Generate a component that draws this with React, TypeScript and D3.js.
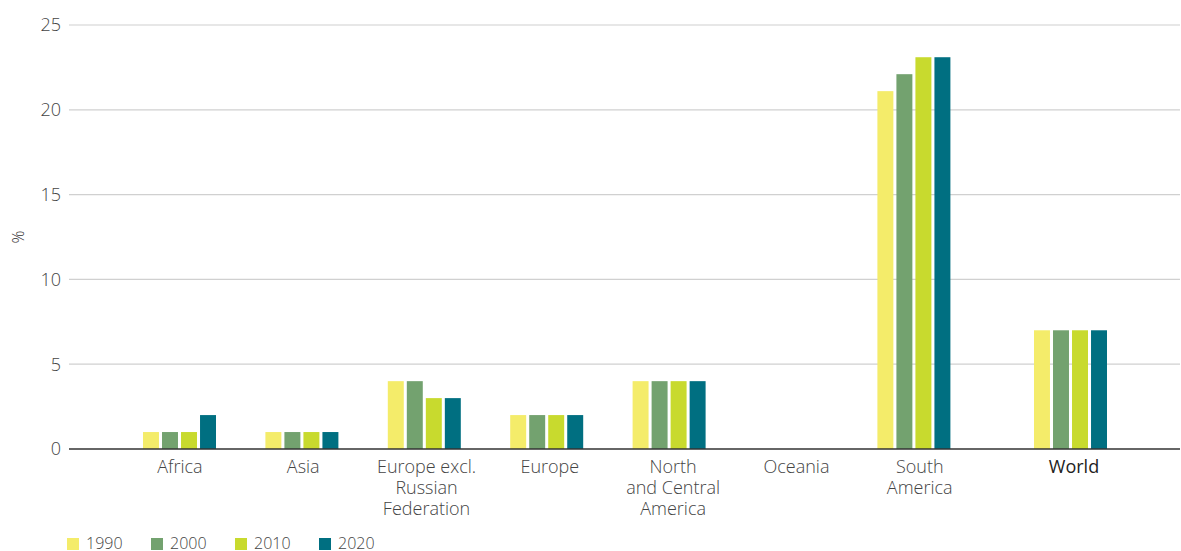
import React from "react";
import * as d3 from "d3";

const categories = ["Africa", "Asia", "Europe excl.\nRussian\nFederation", "Europe", "North\nand Central\nAmerica", "Oceania", "South\nAmerica"];
const worldCategory = "World";
const years = ["1990", "2000", "2010", "2020"];
const colors = ["#F4EC6A", "#73A26F", "#C8DA2E", "#006F81"];
const values1990 = [1, 1, 4, 2, 4, 0, 21.1, 7];
const values2000 = [1, 1, 4, 2, 4, 0, 22.1, 7];
const values2010 = [1, 1, 3, 2, 4, 0, 23.1, 7];
const values2020 = [2, 1, 3, 2, 4, 0, 23.1, 7];
const yTicks = [0, 5, 10, 15, 20, 25];

const W = 1181, H = 551;
const FONT = "'Open Sans', 'Noto Sans', sans-serif";

export default function App() {
  const series = [values1990, values2000, values2010, values2020];
  const y = d3.scaleLinear().domain([0, 25]).range([449, 25]);
  const allCats = [...categories, worldCategory];
  // bar positions
  const xMain = d3.scaleBand<string>().domain(categories).range([118.3, 975.1]);
  const xWorld = d3.scaleBand<string>().domain([worldCategory]).range([981, 1160]);
  // label positions
  const xLabel = d3.scaleBand<string>().domain(categories).range([118.3, 981.4]);
  const xWorldLabel = d3.scaleBand<string>().domain([worldCategory]).range([985, 1163]);
  const center = (i: number) =>
    i < categories.length
      ? (xMain(categories[i]) as number) + xMain.bandwidth() / 2
      : (xWorld(worldCategory) as number) + xWorld.bandwidth() / 2;
  const labelCenter = (i: number) =>
    i < categories.length
      ? (xLabel(categories[i]) as number) + xLabel.bandwidth() / 2
      : (xWorldLabel(worldCategory) as number) + xWorldLabel.bandwidth() / 2;
  const inner = d3.scaleBand<string>().domain(years).range([-36.5, 36.5]).paddingInner(0.16);
  const legendX = d3.scaleBand<string>().domain(years).range([67, 403]);

  return (
    <svg width={W} height={H} style={{ position: "absolute", left: 0, top: 0, fontFamily: FONT }}>
      {yTicks.map((t) => (
        <g key={t}>
          {t !== 0 && <line x1={69} x2={1180} y1={y(t)} y2={y(t)} stroke="#d0d0d0" strokeWidth={1.2} />}
          <text x={61} y={y(t)} dy="0.35em" textAnchor="end" fontSize={18} fontWeight={300} fill="#444">{t}</text>
        </g>
      ))}
      <text transform={`translate(18,237) rotate(-90)`} textAnchor="middle" dy="0.35em" fontSize={16} fontWeight={300} fill="#333">%</text>
      {allCats.map((c, i) => (
        <g key={c}>
          <g transform={`translate(${center(i)},0)`}>
            {years.map((yr, j) => {
              const v = series[j][i];
              return v > 0 ? (
                <rect key={yr} x={inner(yr) as number} width={inner.bandwidth()} y={y(v)} height={y(0) - y(v)} fill={colors[j]} />
              ) : null;
            })}
          </g>
          {c.split("\n").map((line, k) => (
            <text key={k} x={labelCenter(i)} y={473 + k * 21} textAnchor="middle" fontSize={18}
              fontWeight={c === worldCategory ? 500 : 300} fill={c === worldCategory ? "#222" : "#444"}>{line}</text>
          ))}
        </g>
      ))}
      <line x1={69} x2={1180} y1={y(0)} y2={y(0)} stroke="#333" strokeWidth={1.5} />
      {years.map((yr, j) => (
        <g key={yr} transform={`translate(${legendX(yr)},0)`}>
          <rect x={0} y={538} width={12} height={12} fill={colors[j]} />
          <text x={19} y={548.5} fontSize={16} fontWeight={300} fill="#444">{yr}</text>
        </g>
      ))}
    </svg>
  );
}
